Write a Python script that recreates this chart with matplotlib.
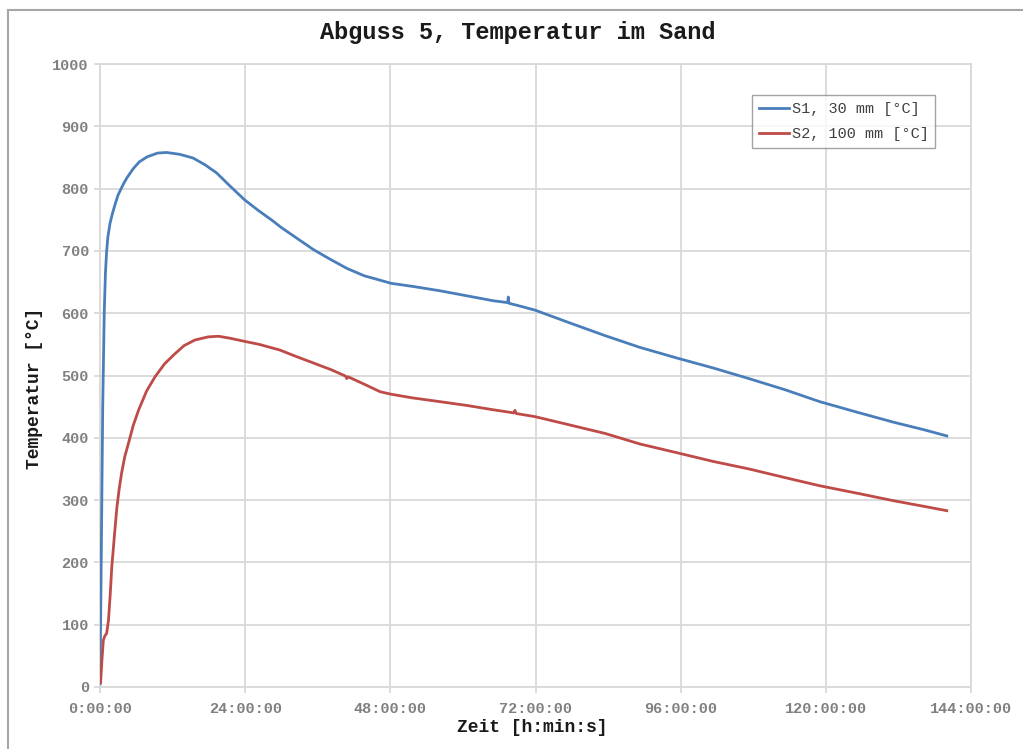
import matplotlib
matplotlib.use("Agg")
import matplotlib.pyplot as plt
from matplotlib.lines import Line2D
from matplotlib.ticker import FixedLocator, FuncFormatter

# Time in hours since casting, temperature in degC
s1_hours = [0.0, 0.1, 0.25, 0.45, 0.7, 0.9, 1.1, 1.3, 1.65, 2.0, 2.5, 3.0, 3.9,
            4.5, 5.5, 6.5, 7.8, 9.5, 11.0, 13.2, 15.4, 17.4, 19.3, 21.4, 23.9,
            26.3, 28.6, 29.9, 32.3, 35.3, 37.8, 40.8, 43.7, 46.3, 48.1, 51.7,
            56.2, 60.6, 65.0, 67.4, 67.5, 67.6, 69.6, 71.9, 77.5, 83.5, 89.3,
            95.4, 101.4, 107.3, 113.3, 119.0, 125.2, 131.2, 136.2, 140.0]
s1_temp = [5, 100, 250, 450, 600, 665, 700, 722, 744, 758, 775, 790, 808,
           818, 832, 843, 851, 857, 858, 855, 849, 838, 825, 805, 782,
           764, 748, 738, 722, 702, 688, 672, 660, 653, 648, 643,
           636, 628, 620, 617, 626, 616, 611, 605, 585, 564, 545,
           528, 512, 495, 477, 458, 441, 425, 413, 403]

s2_hours = [0.1, 0.3, 0.55, 0.8, 1.1, 1.4, 1.7, 1.95, 2.4, 2.8, 3.2, 3.6, 4.1,
            4.7, 5.5, 6.4, 7.7, 9.1, 10.7, 12.4, 13.9, 15.7, 17.9, 19.6, 21.4,
            24.3, 26.3, 29.7, 32.3, 35.3, 38.3, 40.6, 40.8, 41.0, 43.7, 46.3,
            48.1, 51.7, 56.2, 60.6, 65.0, 68.4, 68.6, 68.8, 71.9, 77.5, 83.5,
            89.3, 95.4, 101.4, 107.3, 113.3, 119.0, 125.2, 131.2, 136.2, 140.0]
s2_temp = [7, 40, 75, 82, 86, 107, 150, 193, 245, 289, 320, 345, 370,
           391, 420, 445, 475, 498, 519, 535, 548, 557, 562, 563, 560,
           554, 550, 541, 531, 520, 509, 499, 495, 498, 486, 474,
           470, 464, 458, 452, 445, 440, 444, 439, 434, 421, 407,
           390, 376, 362, 350, 336, 323, 311, 299, 290, 283]

x_ticks = [0, 24, 48, 72, 96, 120, 144]
y_ticks = list(range(0, 1001, 100))

series_labels = ["S1, 30 mm [°C]", "S2, 100 mm [°C]"]
title = "Abguss 5, Temperatur im Sand"
x_label = "Zeit [h:min:s]"
y_label = "Temperatur [°C]"

BLUE = "#4a7ebb"
RED = "#be4b48"
GRID = "#d9d9d9"
TICK_TXT = "#808080"
MONO = ["Liberation Mono", "DejaVu Sans Mono"]

W, H = 1023, 749
fig = plt.figure(figsize=(W / 100, H / 100), dpi=100)
fig.patch.set_facecolor("white")

# chart frame (top and left edges)
fig.add_artist(Line2D([8 / W, 8 / W], [0, 1 - 10 / H], transform=fig.transFigure,
                      color="#a6a6a6", lw=1.5))
fig.add_artist(Line2D([8 / W, 1], [1 - 10 / H, 1 - 10 / H], transform=fig.transFigure,
                      color="#a6a6a6", lw=1.5))

ax = fig.add_axes([100 / W, 1 - 687 / H, (971 - 100) / W, (687 - 64) / H])
ax.set_xlim(0, 144)
ax.set_ylim(0, 1000)

ax.xaxis.set_major_locator(FixedLocator(x_ticks))
ax.yaxis.set_major_locator(FixedLocator(y_ticks))
ax.xaxis.set_major_formatter(FuncFormatter(lambda v, p: f"{int(round(v))}:00:00"))
ax.grid(True, color=GRID, lw=1.3, zorder=0)
for sp in ax.spines.values():
    sp.set_color(GRID)
    sp.set_linewidth(1.3)
ax.tick_params(axis="both", direction="out", length=4, width=1.3, color=GRID,
               labelcolor=TICK_TXT, labelsize=11)
ax.tick_params(axis="x", pad=6.5)
ax.tick_params(axis="y", pad=4)
for lab in ax.get_xticklabels() + ax.get_yticklabels():
    lab.set_family(MONO)
    lab.set_fontweight("bold")

ax.plot(s1_hours, s1_temp, color=BLUE, lw=2.0, label=series_labels[0], zorder=3,
        solid_joinstyle="round")
ax.plot(s2_hours, s2_temp, color=RED, lw=2.0, label=series_labels[1], zorder=3,
        solid_joinstyle="round")

leg = ax.legend(loc="upper left", bbox_to_anchor=((752 - 100) / 871, 1 - (95 - 64) / 623),
                prop={"family": MONO, "size": 11}, frameon=True, fancybox=False,
                edgecolor="#8c8c8c", handlelength=2.0, handletextpad=0.15,
                borderpad=0.45, labelspacing=0.75, borderaxespad=0)
leg.get_frame().set_linewidth(1.0)
for t in leg.get_texts():
    t.set_color("#404040")

fig.text(518 / W, 1 - 33 / H, title, ha="center", va="center",
         family=MONO, fontweight="bold", fontsize=17, color="#1a1a1a")
fig.text(532 / W, 1 - 728 / H, x_label, ha="center", va="center",
         family=MONO, fontweight="bold", fontsize=13, color="#1a1a1a")
fig.text(35 / W, 1 - 388 / H, y_label, ha="center", va="center", rotation=90,
         family=MONO, fontweight="bold", fontsize=13, color="#1a1a1a")

fig.savefig("out.png", dpi=100)
